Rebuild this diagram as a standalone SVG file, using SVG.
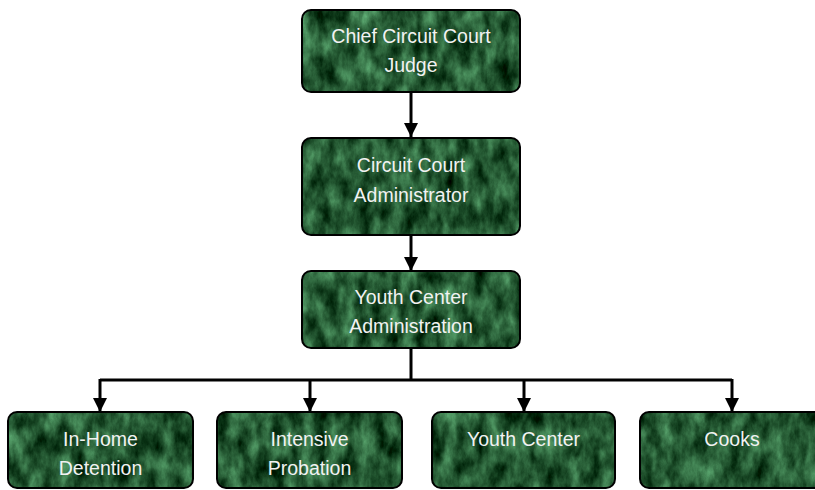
<svg xmlns="http://www.w3.org/2000/svg" width="815" height="490" viewBox="0 0 815 490">
<style>
.box{fill:#1f5530;filter:url(#marble);}
.edge{fill:none;stroke:#000;stroke-width:2;}
.lbl{font-family:"Liberation Sans",Arial,sans-serif;font-size:19.5px;fill:#f2f2f2;text-anchor:middle;}
.conn{fill:none;stroke:#000;stroke-width:3;}
</style>
<defs>
<filter id="marble" x="0" y="0" width="1" height="1" color-interpolation-filters="sRGB">
<feTurbulence type="fractalNoise" baseFrequency="0.07 0.035" numOctaves="5" seed="11" result="n"/>
<feColorMatrix in="n" type="matrix" values="0.55 0 0 0 -0.13  0.8 0 0 0 -0.05  0.62 0 0 0 -0.11  0 0 0 0 1" result="c"/>
<feComposite in="c" in2="SourceAlpha" operator="in"/>
</filter>
<marker id="arr" viewBox="0 0 14 14" refX="14" refY="7" markerWidth="14" markerHeight="14" markerUnits="userSpaceOnUse" orient="auto">
<path d="M0,0 L14,7 L0,14 Z" fill="#000"/>
</marker>
</defs>
<g id="connectors">
<path class="conn" d="M411,92 V137" marker-end="url(#arr)"/>
<path class="conn" d="M411,235 V271" marker-end="url(#arr)"/>
<path class="conn" d="M411,348 V380"/>
<path class="conn" d="M100,380 H732"/>
<path class="conn" d="M100,379 V412" marker-end="url(#arr)"/>
<path class="conn" d="M310,380 V412" marker-end="url(#arr)"/>
<path class="conn" d="M524,380 V412" marker-end="url(#arr)"/>
<path class="conn" d="M732,379 V412" marker-end="url(#arr)"/>
</g>
<g id="chief-judge">
<rect class="box" x="302" y="10" width="218" height="82" rx="9"/>
<rect class="edge" x="302" y="10" width="218" height="82" rx="9"/>
<text class="lbl" x="411" y="43">Chief Circuit Court</text>
<text class="lbl" x="411" y="72">Judge</text>
</g>
<g id="court-admin">
<rect class="box" x="302" y="138" width="218" height="97" rx="9"/>
<rect class="edge" x="302" y="138" width="218" height="97" rx="9"/>
<text class="lbl" x="411" y="172">Circuit Court</text>
<text class="lbl" x="411" y="202">Administrator</text>
</g>
<g id="youth-admin">
<rect class="box" x="302" y="271" width="218" height="77" rx="9"/>
<rect class="edge" x="302" y="271" width="218" height="77" rx="9"/>
<text class="lbl" x="411" y="304">Youth Center</text>
<text class="lbl" x="411" y="333">Administration</text>
</g>
<g id="in-home">
<rect class="box" x="8" y="412" width="185" height="76" rx="9"/>
<rect class="edge" x="8" y="412" width="185" height="76" rx="9"/>
<text class="lbl" x="100.5" y="446">In-Home</text>
<text class="lbl" x="100.5" y="475">Detention</text>
</g>
<g id="intensive">
<rect class="box" x="217" y="412" width="185" height="76" rx="9"/>
<rect class="edge" x="217" y="412" width="185" height="76" rx="9"/>
<text class="lbl" x="309.5" y="446">Intensive</text>
<text class="lbl" x="309.5" y="475">Probation</text>
</g>
<g id="youth-center">
<rect class="box" x="432" y="412" width="183" height="76" rx="9"/>
<rect class="edge" x="432" y="412" width="183" height="76" rx="9"/>
<text class="lbl" x="523.5" y="446">Youth Center</text>
</g>
<g id="cooks">
<rect class="box" x="640" y="412" width="185" height="76" rx="9"/>
<rect class="edge" x="640" y="412" width="185" height="76" rx="9"/>
<text class="lbl" x="732" y="446">Cooks</text>
</g>
</svg>
